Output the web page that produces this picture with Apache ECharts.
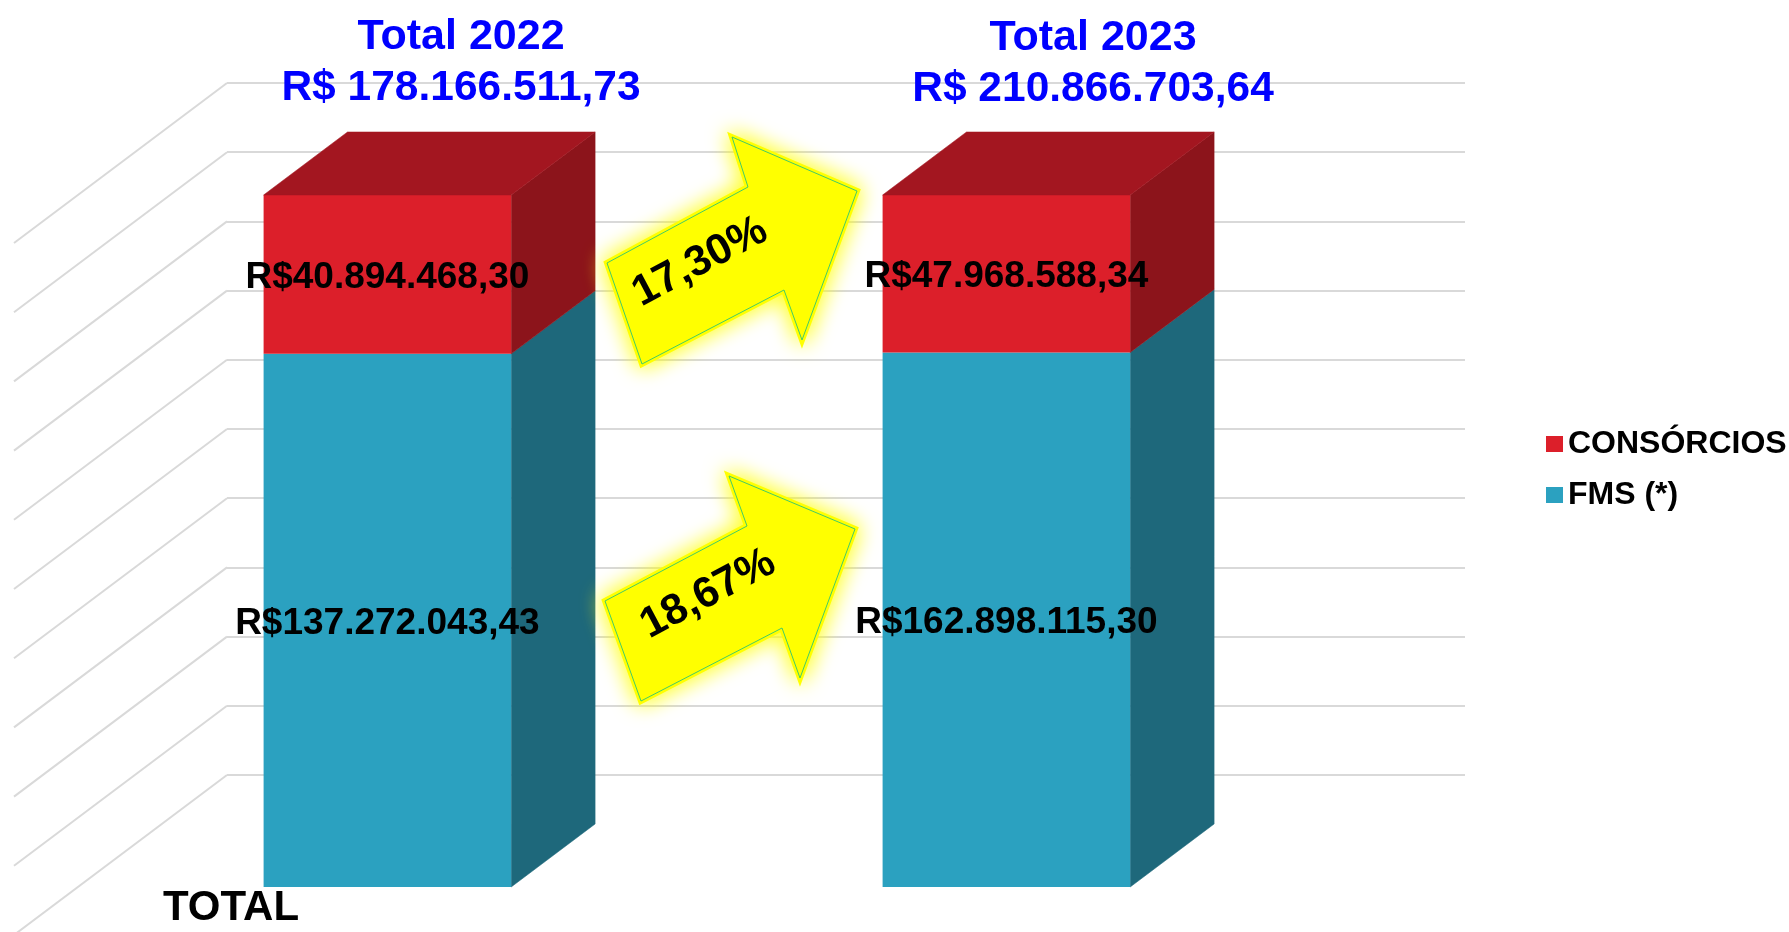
<!DOCTYPE html>
<html>
  <head>
    <meta charset="UTF-8">
    <title>FMS e Consórcios 2022 x 2023</title>
    <script src="https://cdn.jsdelivr.net/npm/echarts@6/dist/echarts.min.js"></script>
    <style>
      html, body { margin: 0; padding: 0; background: #fff; }
    </style>
  </head>
  <body>
    <div id="box" style="width:1789px;height:932px"></div>
    <script>
        // dados
        var anos = ['2022', '2023'];
        var fms = [137272043.43, 162898115.30];
        var consorcios = [40894468.30, 47968588.34];
        var yTicks = [0, 10, 20, 30, 40, 50, 60, 70, 80, 90, 100];

        var FONT = '"Liberation Sans", Arial, sans-serif';
        var DX = -213, DY = 160;        // profundidade do "3D"
        var F_FRONT = 0.70, F_BACK = 0.306;

        function brl(v) {
            var p = v.toFixed(2).split('.');
            return p[0].replace(/\B(?=(\d{3})+(?!\d))/g, '.') + ',' + p[1];
        }

        var totais = anos.map(function (a, i) { return fms[i] + consorcios[i]; });
        var dadosFms = anos.map(function (a, i) {
            return [i, 0, fms[i] / totais[i] * 100, fms[i]];
        });
        var dadosCons = anos.map(function (a, i) {
            return [i, fms[i] / totais[i] * 100, 100, consorcios[i]];
        });
        function pct(a, b) { return ((b / a - 1) * 100).toFixed(2).replace('.', ',') + '%'; }
        var crescCons = pct(consorcios[0], consorcios[1]);
        var crescFms = pct(fms[0], fms[1]);

        function caixa(cores, topo) {
            return function (params, api) {
                var cat = api.value(0);
                var lo = api.coord([cat, api.value(1)]);
                var hi = api.coord([cat, api.value(2)]);
                var half = api.size([1, 0])[0] * 0.4 / 2;
                var xl = lo[0] - half, xr = lo[0] + half;
                function pt(x, y, f) { return [x + f * DX, y + f * DY]; }
                var fTL = pt(xl, hi[1], F_FRONT), fTR = pt(xr, hi[1], F_FRONT);
                var fBR = pt(xr, lo[1], F_FRONT), fBL = pt(xl, lo[1], F_FRONT);
                var bTL = pt(xl, hi[1], F_BACK), bTR = pt(xr, hi[1], F_BACK);
                var bBR = pt(xr, lo[1], F_BACK);
                var kids = [
                    {type: 'polygon', shape: {points: [fTR, bTR, bBR, fBR]},
                     style: {fill: cores.lado, stroke: cores.lado, lineWidth: 0.5}},
                    {type: 'rect', shape: {x: fTL[0], y: fTL[1], width: fTR[0] - fTL[0], height: fBL[1] - fTL[1]},
                     style: {fill: cores.frente}}
                ];
                if (topo) {
                    kids.push({type: 'polygon', shape: {points: [fTL, fTR, bTR, bTL]},
                               style: {fill: cores.topo, stroke: cores.topo, lineWidth: 0.5}});
                }
                kids.push({type: 'text', style: {
                    text: 'R$' + brl(api.value(3)),
                    x: (fTL[0] + fTR[0]) / 2, y: (fTL[1] + fBL[1]) / 2 + 3,
                    align: 'center', verticalAlign: 'middle',
                    fill: '#000', fontSize: 37, fontWeight: 'bold', fontFamily: FONT
                }});
                return {type: 'group', children: kids};
            };
        }

        function seta(pontos, texto, cx, cy) {
            return {
                type: 'group',
                children: [
                    {type: 'polygon', z: 100, shape: {points: pontos},
                     style: {fill: '#ffff00', stroke: '#ffff00', lineWidth: 6,
                             shadowBlur: 22, shadowColor: 'rgba(255,255,0,1)'}},
                    {type: 'polygon', z: 101, shape: {points: pontos},
                     style: {fill: '#ffff00', stroke: '#44cc66', lineWidth: 1}},
                    {type: 'text', z: 102, x: cx, y: cy, rotation: 28 * Math.PI / 180,
                     style: {text: texto, align: 'center', verticalAlign: 'middle',
                             fill: '#000', fontSize: 43, fontWeight: 'bold', fontFamily: FONT}}
                ]
            };
        }

        function titulo(i, cx, y1, y2) {
            return {
                type: 'group', children: [
                    {type: 'text', z: 100, x: cx, y: y1, style: {text: 'Total ' + anos[i], align: 'center', verticalAlign: 'middle',
                        fill: '#0000ff', fontSize: 43, fontWeight: 'bold', fontFamily: FONT}},
                    {type: 'text', z: 100, x: cx, y: y2, style: {text: 'R$ ' + brl(totais[i]), align: 'center', verticalAlign: 'middle',
                        fill: '#0000ff', fontSize: 42.5, fontWeight: 'bold', fontFamily: FONT}}
                ]
            };
        }

        var myChart = echarts.init(document.getElementById('box'));
        myChart.setOption({
            animation: false,
            grid: {left: 227, right: 324, top: 83, bottom: 157},
            xAxis: {
                type: 'category', data: anos,
                axisLine: {show: false}, axisTick: {show: false}, axisLabel: {show: false}
            },
            yAxis: {
                type: 'value', min: 0, max: 100, interval: 10,
                axisLine: {show: false}, axisTick: {show: false}, axisLabel: {show: false},
                splitLine: {lineStyle: {color: '#d9d9d9', width: 2}}
            },
            legend: {
                orient: 'vertical', left: 1541, top: 423, itemGap: 19,
                itemWidth: 17, itemHeight: 16, icon: 'rect',
                data: ['CONSÓRCIOS', 'FMS (*)'],
                textStyle: {fontSize: 32, fontWeight: 'bold', color: '#000', fontFamily: FONT}
            },
            series: [
                {   // parede lateral
                    type: 'custom', silent: true, z: 1,
                    data: yTicks.map(function (v) { return [0, v]; }),
                    encode: {x: 0, y: 1},
                    renderItem: function (params, api) {
                        var p = api.coord([0, api.value(1)]);
                        var x0 = params.coordSys.x;
                        return {type: 'line', shape: {x1: x0, y1: p[1], x2: x0 + DX, y2: p[1] + DY},
                                style: {stroke: '#d9d9d9', lineWidth: 2}};
                    }
                },
                {
                    name: 'FMS (*)', type: 'custom', z: 2,
                    itemStyle: {color: '#2ba1c0'},
                    data: dadosFms, encode: {x: 0, y: [1, 2]},
                    renderItem: caixa({frente: '#2ba1c0', lado: '#1e687b', topo: '#23839c'}, false)
                },
                {
                    name: 'CONSÓRCIOS', type: 'custom', z: 3,
                    itemStyle: {color: '#dc1f2a'},
                    data: dadosCons, encode: {x: 0, y: [1, 2]},
                    renderItem: caixa({frente: '#dc1f2a', lado: '#8c141b', topo: '#a31620'}, true)
                }
            ],
            graphic: [
                titulo(0, 461, 37, 88),
                titulo(1, 1093, 38, 89),
                seta([[607, 263], [748, 187], [732, 137], [857, 191], [802, 340], [784, 290], [642, 364]], crescCons, 700, 262),
                seta([[605, 601], [747, 526], [729, 476], [855, 529], [800, 678], [782, 628], [641, 701]], crescFms, 708, 594),
                {type: 'text', z: 100, x: 231, y: 908, style: {text: 'TOTAL', align: 'center', verticalAlign: 'middle',
                    fill: '#000', fontSize: 42, fontWeight: 'bold', fontFamily: FONT}}
            ]
        });
    </script>
  </body>
</html>
